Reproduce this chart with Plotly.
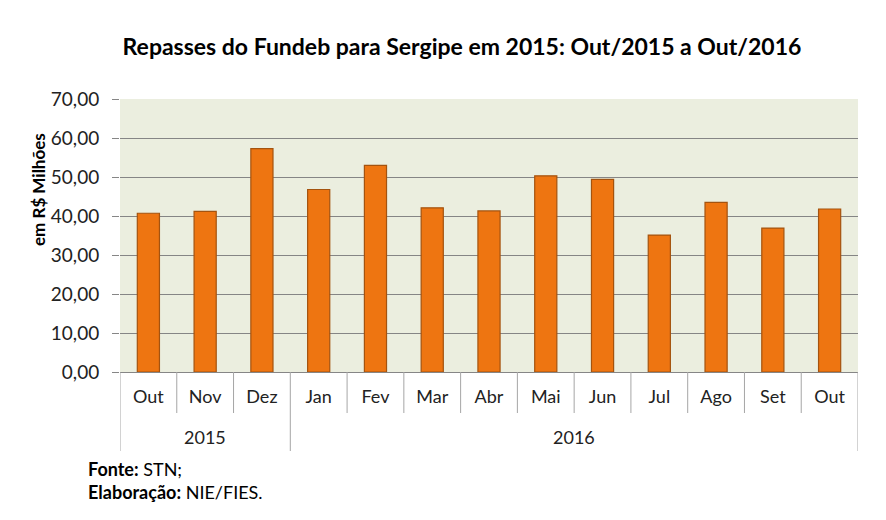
import plotly.graph_objects as go

years = ["2015", "2015", "2015", "2016", "2016", "2016", "2016", "2016", "2016", "2016", "2016", "2016", "2016"]
months = ["Out", "Nov", "Dez", "Jan", "Fev", "Mar", "Abr", "Mai", "Jun", "Jul", "Ago", "Set", "Out"]
values = [40.7, 41.2, 57.3, 46.8, 53.0, 42.1, 41.3, 50.3, 49.4, 35.1, 43.5, 36.9, 41.8]
yticks = [0, 10, 20, 30, 40, 50, 60, 70]
yticklabels = ["0,00", "10,00", "20,00", "30,00", "40,00", "50,00", "60,00", "70,00"]

font = "Lato"
keys = [f"{m}/{y}" for m, y in zip(months, years)]

# page body adds an 8px offset; positions below are in figure pixels
OFF = 8
W, H = 886, 520
ml, mt = 120 - OFF, 99 - OFF
mr = W - (858 - OFF)
mb = H - (372 - OFF)
ph = H - mt - mb
pw = W - ml - mr
ybase = H - mb  # figure pixel of the x axis


def py(ref_y):
    """reference pixel y -> paper y"""
    return (ybase - (ref_y - OFF)) / ph


def px(ref_x):
    return ((ref_x - OFF) - ml) / pw


fig = go.Figure()
fig.add_trace(go.Bar(
    x=keys,
    y=values,
    width=0.39,
    marker=dict(color="#EE7511", line=dict(color="#A4530F", width=1.2)),
    hoverinfo="y",
))

fig.update_layout(
    width=W, height=H,
    margin=dict(l=ml, r=mr, t=mt, b=mb),
    paper_bgcolor="white",
    plot_bgcolor="#EBEEDF",
    showlegend=False,
    title=dict(
        text="<b>Repasses do Fundeb para Sergipe em 2015: Out/2015 a Out/2016</b>",
        x=(462 - OFF) / W, xanchor="center", y=1 - (47 - OFF) / H, yanchor="middle",
        font=dict(family=font, size=23, color="black"),
    ),
    font=dict(family=font, color="#222222"),
)

fig.update_xaxes(
    type="category",
    tickvals=keys,
    ticktext=months,
    ticks="",
    ticklabelstandoff=8,
    showline=True,
    linecolor="#868686",
    tickfont=dict(family=font, size=18, color="#222222"),
    showgrid=False,
    automargin=False,
    range=[-0.5, len(keys) - 0.5],
)

fig.update_yaxes(
    range=[0, 70],
    tickvals=yticks,
    ticktext=yticklabels,
    ticks="outside",
    ticklen=7,
    tickcolor="#868686",
    ticklabelstandoff=9,
    showgrid=True,
    gridcolor="#858585",
    gridwidth=1,
    zeroline=False,
    showline=False,
    tickfont=dict(family=font, size=19, color="#222222"),
    automargin=False,
)

# dividers below the category axis
short = 41 / ph
long_ = 79 / ph
for i in range(len(keys) + 1):
    is_group = i == 0 or i == len(keys) or years[i] != years[i - 1]
    fig.add_shape(
        type="line", xref="x", yref="paper",
        x0=i - 0.5, x1=i - 0.5, y0=0, y1=-(long_ if is_group else short),
        line=dict(color="#A6A6A6", width=1),
    )

# year labels
groups = []
for i, y in enumerate(years):
    if not groups or groups[-1][0] != y:
        groups.append([y, i, i])
    else:
        groups[-1][2] = i
for y, a, b in groups:
    fig.add_annotation(
        text=y, xref="x", yref="paper", x=(a + b) / 2, y=py(437),
        showarrow=False, yanchor="middle",
        font=dict(family=font, size=18, color="#222222"),
    )

# y axis title
fig.add_annotation(
    text="<b>em R$ Milhões</b>", textangle=-90,
    xref="paper", yref="paper", x=px(38), y=py(190),
    showarrow=False, xanchor="center", yanchor="middle",
    font=dict(family=font, size=17, color="black"),
)

fig.add_annotation(
    text="<b>Fonte:</b> STN;<br><b>Elaboração:</b> NIE/FIES.",
    xref="paper", yref="paper", x=px(86), y=py(456),
    xanchor="left", yanchor="top",
    showarrow=False, align="left",
    font=dict(family=font, size=18, color="black"),
)

fig.write_html("out.html")
